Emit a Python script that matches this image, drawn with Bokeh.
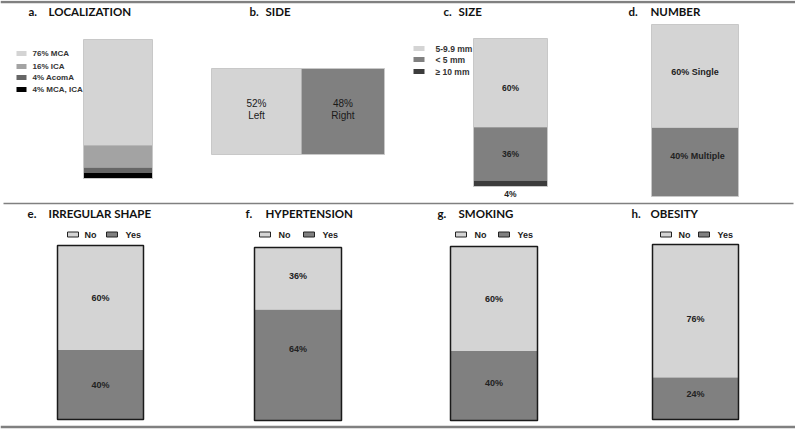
from bokeh.plotting import figure
from bokeh.models import Range1d
from bokeh.core.properties import value
from bokeh.embed import file_html
from bokeh.resources import INLINE

# ---------------- data ----------------
titles_letter = ["a.", "b.", "c.", "d.", "e.", "f.", "g.", "h."]
titles_word = ["LOCALIZATION", "SIDE", "SIZE", "NUMBER",
               "IRREGULAR SHAPE", "HYPERTENSION", "SMOKING", "OBESITY"]

loc_labels = ["MCA", "ICA", "AcomA", "MCA, ICA"]
loc_pct = [76, 16, 4, 4]

side_labels = ["Left", "Right"]
side_pct = [52, 48]

size_labels = ["5-9.9 mm", "< 5 mm", "\u2265 10 mm"]
size_pct = [60, 36, 4]

number_labels = ["Single", "Multiple"]
number_pct = [60, 40]

yn_labels = ["No", "Yes"]
shape_pct = [60, 40]
hyper_pct = [36, 64]
smoking_pct = [60, 40]
obesity_pct = [76, 24]

# ---------------- styles / layout ----------------
LIGHT = "#d4d4d4"
MID = "#808080"
loc_colors = ["#d4d4d4", "#a3a3a3", "#666666", "#000000"]
size_colors = ["#d4d4d4", "#808080", "#3c3c3c"]
TXT = "#222222"
FONT_T = value("Lato")
FONT = value("Liberation Sans")

W_PX, H_PX = 795, 429
p = figure(width=W_PX, height=H_PX, x_range=Range1d(0, W_PX), y_range=Range1d(H_PX, 0),
           output_backend="svg", toolbar_location=None, min_border=0)
p.axis.visible = False
p.grid.visible = False
p.outline_line_color = None
p.background_fill_color = "white"
p.border_fill_color = "white"


def vstack(box, pcts, colors, border, bw):
    x0, x1, y0, y1 = box
    H = y1 - y0
    tops, bots, cents = [], [], []
    c = 0
    for v in pcts:
        t = y0 + c * H / 100
        c += v
        b = y0 + c * H / 100
        tops.append(t); bots.append(b); cents.append((t + b) / 2)
    p.quad(left=x0, right=x1, top=tops, bottom=bots, fill_color=colors, line_color=None)
    p.quad(left=x0, right=x1, top=y0, bottom=y1, fill_color=None, line_color=border, line_width=bw)
    return cents


def txt(x, y, s, size="9px", bold=True, align="center", color=TXT, font=FONT):
    p.text(x=[x], y=[y], text=[s], text_font=font, text_font_size=size,
           text_font_style="bold" if bold else "normal", text_align=align,
           text_baseline="middle", text_color=color)


# separator lines
p.segment(x0=[0, 3, 0], x1=[795, 793, 795], y0=[1.5, 203, 426.5], y1=[1.5, 203, 426.5],
          line_color="#808080", line_width=[2.5, 1.5, 2.5])

# titles
letter_x = [28, 249, 443, 628, 27, 245, 437, 631]
word_x = [48, 265, 458, 650, 48, 265, 458, 650]
title_y = [11, 11, 11, 11, 213, 213, 213, 213]
for lx, wx, ty, l, w in zip(letter_x, word_x, title_y, titles_letter, titles_word):
    txt(lx, ty, l, size="11.5px", align="left", color="#111111", font=FONT_T)
    txt(wx, ty, w, size="11.5px", align="left", color="#111111", font=FONT_T)

# a. localization
vstack((83, 152, 39, 178), loc_pct, loc_colors, "#c8c8c8", 1)
leg_y = [53, 66, 77, 89]
p.quad(left=16, right=26, top=[y - 2.5 for y in leg_y], bottom=[y + 2.5 for y in leg_y],
       fill_color=loc_colors, line_color=None)
for y, v, l in zip(leg_y, loc_pct, loc_labels):
    txt(32, y, f"{v}%  {l}", size="8px", align="left", color="#333333")

# b. side (horizontal)
bx0, bx1, by0, by1 = 211, 384, 68, 154
W = bx1 - bx0
lefts, rights = [], []
c = 0
for v in side_pct:
    lefts.append(bx0 + c * W / 100)
    c += v
    rights.append(bx0 + c * W / 100)
p.quad(left=lefts, right=rights, top=by0, bottom=by1, fill_color=[LIGHT, MID], line_color=None)
p.quad(left=bx0, right=bx1, top=by0, bottom=by1, fill_color=None, line_color="#c8c8c8", line_width=1)
for l, r, v, lab in zip(lefts, rights, side_pct, side_labels):
    cx = (l + r) / 2
    txt(cx, 103, f"{v}%", size="10px", bold=False, color="#1a1a1a")
    txt(cx, 115, lab, size="10px", bold=False, color="#1a1a1a")

# c. size
cents = vstack((473, 547, 38, 186), size_pct, size_colors, "#c8c8c8", 1)
txt(510, cents[0] + 5, f"{size_pct[0]}%", size="8.5px")
txt(510, cents[1], f"{size_pct[1]}%", size="8.5px")
txt(510, 193, f"{size_pct[2]}%", size="8.5px")
leg_y = [48, 59, 71]
p.quad(left=413, right=424, top=[y - 2.5 for y in leg_y], bottom=[y + 2.5 for y in leg_y],
       fill_color=size_colors, line_color=None)
for y, l in zip(leg_y, size_labels):
    txt(435, y, l, size="8.5px", align="left", color="#333333")

# d. number
cents = vstack((651, 738, 24, 196), number_pct, [LIGHT, MID], "#c8c8c8", 1)
txt(694.5, cents[0] - 4, f"{number_pct[0]}% {number_labels[0]}", size="9px")
txt(697, cents[1] - 6, f"{number_pct[1]}% {number_labels[1]}", size="9px")

# e-h yes/no panels
panels = [
    ((57, 143, 245, 419), shape_pct, (67, 84, 106, 125), (0, 0)),
    ((254, 341, 247, 420), hyper_pct, (259, 278, 303, 322), (-3, -16)),
    ((450, 537, 246, 420), smoking_pct, (455, 474, 498, 517), (0, -3)),
    ((652, 738, 244, 419), obesity_pct, (660, 678, 698, 717), (8, -5)),
]
for box, pct, leg, shift in panels:
    cents = vstack(box, pct, [LIGHT, MID], "#1a1a1a", 1.5)
    cx = (box[0] + box[1]) / 2
    for cy, v, s in zip(cents, pct, shift):
        txt(cx, cy + s, f"{v}%", size="9px")
    nx, ntx, yx, ytx = leg
    p.quad(left=[nx, yx], right=[nx + 11, yx + 11], top=231.5, bottom=236.5,
           fill_color=[LIGHT, MID], line_color="#222222", line_width=1)
    txt(ntx, 234, yn_labels[0], size="9px", align="left")
    txt(ytx, 234, yn_labels[1], size="9px", align="left")

open("out.html", "w").write(file_html(p, INLINE))
